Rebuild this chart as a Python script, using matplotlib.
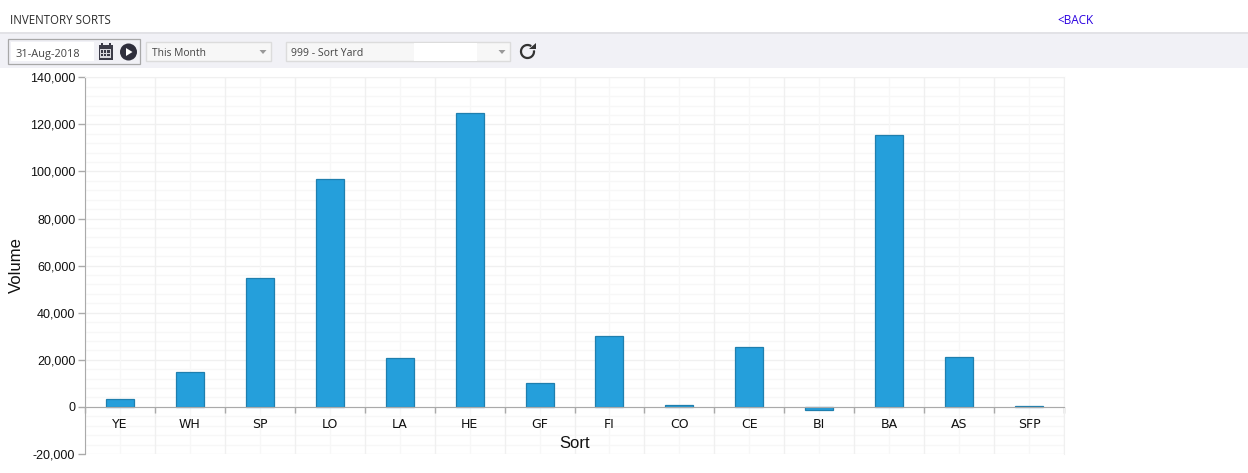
# Packages
# ======================================================
import matplotlib
matplotlib.use("Agg")
import matplotlib.pyplot as plt
from matplotlib.patches import Rectangle, Circle, Polygon, Arc
from matplotlib.transforms import Affine2D
from matplotlib.ticker import FuncFormatter

# Chart data
# ======================================================
SORTS = ["YE", "WH", "SP", "LO", "LA", "HE", "GF", "FI", "CO", "CE", "BI", "BA", "AS", "SFP"]
VOLUMES = [3500, 15000, 54800, 96800, 20800, 124800, 10000, 30200, 1000, 25500, -1500, 115700, 21200, 200]
Y_TICKS = list(range(-20000, 140001, 20000))
Y_MINOR = list(range(-20000, 140001, 4000))

W, H = 1248, 473
BAR = "#259fdb"
BAR_EDGE = "#1f7fae"
GRID = "#f0f0f0"
GRID_MINOR = "#f7f7f7"
AXIS = "#aaaaaa"
UI_FONT = "Open Sans"

fig = plt.figure(figsize=(W / 100, H / 100), dpi=100, facecolor="white")
# pixel coordinates, origin top left, for the page furniture
px = Affine2D().scale(1 / W, -1 / H).translate(0, 1) + fig.transFigure


def box(x, y, w, h, face, edge="none", lw=1.0):
    fig.add_artist(Rectangle((x, y), w, h, facecolor=face, edgecolor=edge, linewidth=lw, transform=px))


def label(x, y, s, size=8, color="#333333", **kw):
    fig.text(x, y, s, transform=px, fontsize=size, color=color, family=UI_FONT, va="center", **kw)


# Header and toolbar
# ======================================================
box(0, 33, W, 35, "#f1f1f6")
box(0, 32, W, 2, "#e2e2e6")
label(10, 20, "INVENTORY SORTS", size=8.3, color="#2b2b2b")
label(1057.5, 20, "<BACK", size=8.5, color="#2a00e0")

box(8, 39, 132, 25, "#f1f1f6", edge="#a8a8a8", lw=0.9)
box(11, 42, 83, 19, "white")
label(15.5, 54, "31-Aug-2018", size=7.9, color="#444444")

# calendar icon
box(98.5, 45, 14, 15, "#3b3b48")
box(100.5, 43, 2, 3, "#3b3b48")
box(108.5, 43, 2, 3, "#3b3b48")
box(100, 49.5, 11, 9, "#d8d8de")
for cx in (101, 104.2, 107.4):
    for cy in (50.5, 54):
        box(cx, cy, 2.2, 2.4, "#3b3b48")
# play button
fig.add_artist(Circle((128.5, 52), 8.5, facecolor="#2f2f3d", edgecolor="none", transform=px))
fig.add_artist(Polygon([(126, 48), (126, 56), (132.5, 52)], facecolor="white", edgecolor="none", transform=px))

# dropdowns
box(146, 42, 125, 19.5, "#f7f7f7", edge="#dcdcdc")
label(151.5, 54, "This Month", size=7.4, color="#444444")
fig.add_artist(Polygon([(259.5, 50), (266.5, 50), (263, 54)], facecolor="#999999", edgecolor="none", transform=px))
box(286, 42, 224, 19.5, "#f7f7f7", edge="#dcdcdc")
label(291, 54, "999 - Sort Yard", size=7.6, color="#444444")
box(413.5, 43, 63, 18, "white")
fig.add_artist(Polygon([(498.5, 50), (505.5, 50), (502, 54)], facecolor="#999999", edgecolor="none", transform=px))

# refresh icon
fig.add_artist(Arc((527.5, 51.5), 13, 13, theta1=-10, theta2=305, color="#333333", linewidth=1.6, transform=px))
fig.add_artist(Polygon([(529, 49.5), (535.5, 49.5), (535.5, 43.5)], facecolor="#333333", edgecolor="none", transform=px))

# Chart
# ======================================================
left, right, top, bottom = 85, 1064, 77.3, 454.0
ax = fig.add_axes([left / W, 1 - bottom / H, (right - left) / W, (bottom - top) / H])
ax.set_facecolor("white")
ax.set_axisbelow(True)
# keep the category labels on top of the y grid
ax.xaxis.set_zorder(0.6)

positions = list(range(len(SORTS)))
ax.bar(positions, VOLUMES, width=0.4, color=BAR, edgecolor=BAR_EDGE, linewidth=0.9, zorder=2)

ax.set_xlim(-0.5, len(SORTS) - 0.5)
ax.set_ylim(-20000, 140000)

# ticks sit on the category edges, labels on the centres
edges = [i - 0.5 for i in range(len(SORTS) + 1)]
ax.set_xticks(edges)
ax.set_xticklabels([])
ax.set_xticks(positions, SORTS, minor=True)
ax.set_yticks(Y_TICKS)
ax.set_yticks(Y_MINOR, minor=True)
ax.yaxis.set_major_formatter(FuncFormatter(lambda v, _: f"{int(v):,}"))

ax.grid(True, which="minor", color=GRID_MINOR, linewidth=0.9)
ax.grid(True, which="major", color=GRID, linewidth=1.0)

ax.tick_params(axis="x", which="major", length=4, width=1, color=AXIS, direction="out")
ax.tick_params(axis="x", which="minor", length=0, pad=7.8, labelsize=9, labelcolor="#111111")
ax.tick_params(axis="y", which="major", length=5, width=1, color=AXIS, pad=2, labelsize=9, labelcolor="#111111")
ax.tick_params(axis="y", which="minor", length=0)
for tick_label in ax.get_xticklabels(minor=True) + ax.get_yticklabels():
    tick_label.set_family("Liberation Sans")

ax.spines["top"].set_color(GRID)
ax.spines["right"].set_color(GRID)
ax.spines["left"].set_color(AXIS)
ax.spines["bottom"].set_position(("data", 0))
ax.spines["bottom"].set_color(AXIS)

fig.text(575, 443, "Sort", transform=px, fontsize=12, family="Liberation Sans", color="#111111", ha="center", va="center")
fig.text(16.5, 265, "Volume", transform=px, fontsize=12, family="Liberation Sans", color="#111111", ha="center", va="center", rotation=90)

fig.savefig("out.png", dpi=100)
plt.close()
